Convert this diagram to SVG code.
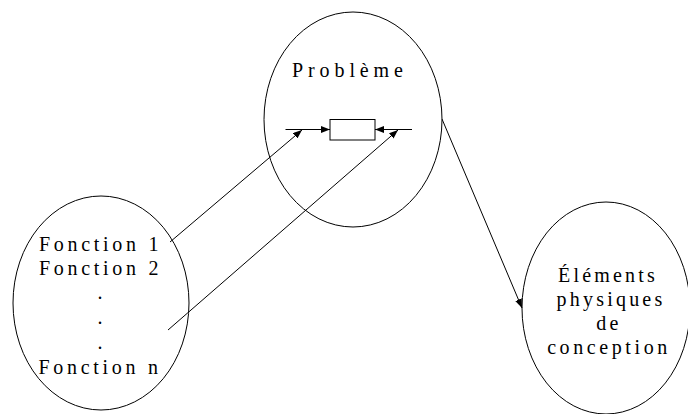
<svg xmlns="http://www.w3.org/2000/svg" width="688" height="414" viewBox="0 0 688 414">
<defs>
<marker id="ah" markerWidth="9" markerHeight="7" refX="9" refY="3.5" orient="auto" markerUnits="userSpaceOnUse">
<path d="M0,0 L9,3.5 L0,7 z" fill="#000"/>
</marker>
<style>
.sh{fill:none;stroke:#000;stroke-width:1}
.ln{fill:none;stroke:#000;stroke-width:1;marker-end:url(#ah)}
.t{font-family:"Liberation Serif","Times New Roman",serif;font-size:20px;fill:#000}
</style>
</defs>
<rect width="688" height="414" fill="#fff"/>
<g id="probleme">
<ellipse class="sh" cx="353" cy="119.5" rx="89" ry="107.5"/>
<text class="t" x="292" y="77" letter-spacing="4.9">Problème</text>
<rect class="sh" x="330" y="119.5" width="45" height="20.5"/>
<line class="ln" x1="285.5" y1="129.5" x2="330" y2="129.5"/>
<line class="ln" x1="412" y1="129.5" x2="375" y2="129.5"/>
</g>
<g id="fonctions">
<ellipse class="sh" cx="101" cy="303" rx="88" ry="107"/>
<text class="t" x="39" y="251" letter-spacing="3.7">Fonction 1</text>
<text class="t" x="39" y="275" letter-spacing="3.7">Fonction 2</text>
<text class="t" x="100" y="299" text-anchor="middle">.</text>
<text class="t" x="100" y="324" text-anchor="middle">.</text>
<text class="t" x="100" y="349" text-anchor="middle">.</text>
<text class="t" x="38.5" y="373.5" letter-spacing="3.7">Fonction n</text>
</g>
<g id="elements">
<ellipse class="sh" cx="606" cy="308" rx="84" ry="106"/>
<text class="t" x="608" y="282" text-anchor="middle" letter-spacing="3.2">Éléments</text>
<text class="t" x="611" y="306" text-anchor="middle" letter-spacing="3.2">physiques</text>
<text class="t" x="609" y="330" text-anchor="middle" letter-spacing="3.2">de</text>
<text class="t" x="609" y="354" text-anchor="middle" letter-spacing="3.6">conception</text>
</g>
<g id="connectors">
<line class="ln" x1="170" y1="242" x2="302" y2="130"/>
<line class="ln" x1="168" y1="330" x2="398" y2="130"/>
<line class="ln" x1="442" y1="119" x2="522" y2="308"/>
</g>
</svg>
